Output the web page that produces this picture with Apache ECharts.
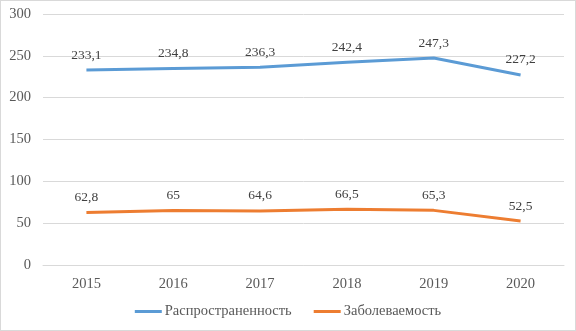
<!DOCTYPE html>
<html>
<head>
<meta charset="utf-8">
<script src="https://cdn.jsdelivr.net/npm/echarts@6/dist/echarts.min.js"></script>
<style>
html, body { margin: 0; padding: 0; background: #fff; }
#box { width: 574px; height: 329px; border: 1px solid #d9d9d9; }
</style>
</head>
<body>
<div id="box"></div>
<script>
var years = ['2015', '2016', '2017', '2018', '2019', '2020'];
var prevalence = [233.1, 234.8, 236.3, 242.4, 247.3, 227.2];
var incidence = [62.8, 65, 64.6, 66.5, 65.3, 52.5];
var names = ['Распространенность', 'Заболеваемость'];

var font = '"Liberation Serif", "Times New Roman", serif';

function fmt(p) {
    return String(p.value).replace('.', ',');
}

var myChart = echarts.init(document.getElementById('box'));
var option = {
    animation: false,
    textStyle: {fontFamily: font},
    grid: {left: 42, right: 11, top: 13, bottom: 65},
    legend: {
        bottom: 6,
        left: 'center',
        itemWidth: 27,
        itemHeight: 3,
        itemGap: 22,
        icon: 'rect',
        textStyle: {fontFamily: font, fontSize: 14.5, color: '#595959', padding: [0, 0, 0, -2]},
        data: names
    },
    xAxis: {
        type: 'category',
        data: years,
        axisLine: {show: true, lineStyle: {color: '#d9d9d9'}},
        axisTick: {show: false},
        axisLabel: {fontFamily: font, fontSize: 14.5, color: '#595959', margin: 12}
    },
    yAxis: {
        type: 'value',
        min: 0,
        max: 300,
        interval: 50,
        axisLine: {show: false},
        axisTick: {show: false},
        axisLabel: {fontFamily: font, fontSize: 14.5, color: '#595959', margin: 12},
        splitLine: {lineStyle: {color: '#d9d9d9'}}
    },
    series: [
        {
            name: names[0],
            type: 'line',
            data: prevalence,
            symbol: 'circle',
            symbolSize: 0,
            lineStyle: {width: 3, color: '#5b9bd5'},
            itemStyle: {color: '#5b9bd5'},
            label: {show: true, position: 'top', distance: 8, formatter: fmt,
                fontFamily: font, fontSize: 13.5, color: '#404040'}
        },
        {
            name: names[1],
            type: 'line',
            data: incidence,
            symbol: 'circle',
            symbolSize: 0,
            lineStyle: {width: 3, color: '#ed7d31'},
            itemStyle: {color: '#ed7d31'},
            label: {show: true, position: 'top', distance: 8, formatter: fmt,
                fontFamily: font, fontSize: 13.5, color: '#404040'}
        }
    ]
};
myChart.setOption(option);
</script>
</body>
</html>
